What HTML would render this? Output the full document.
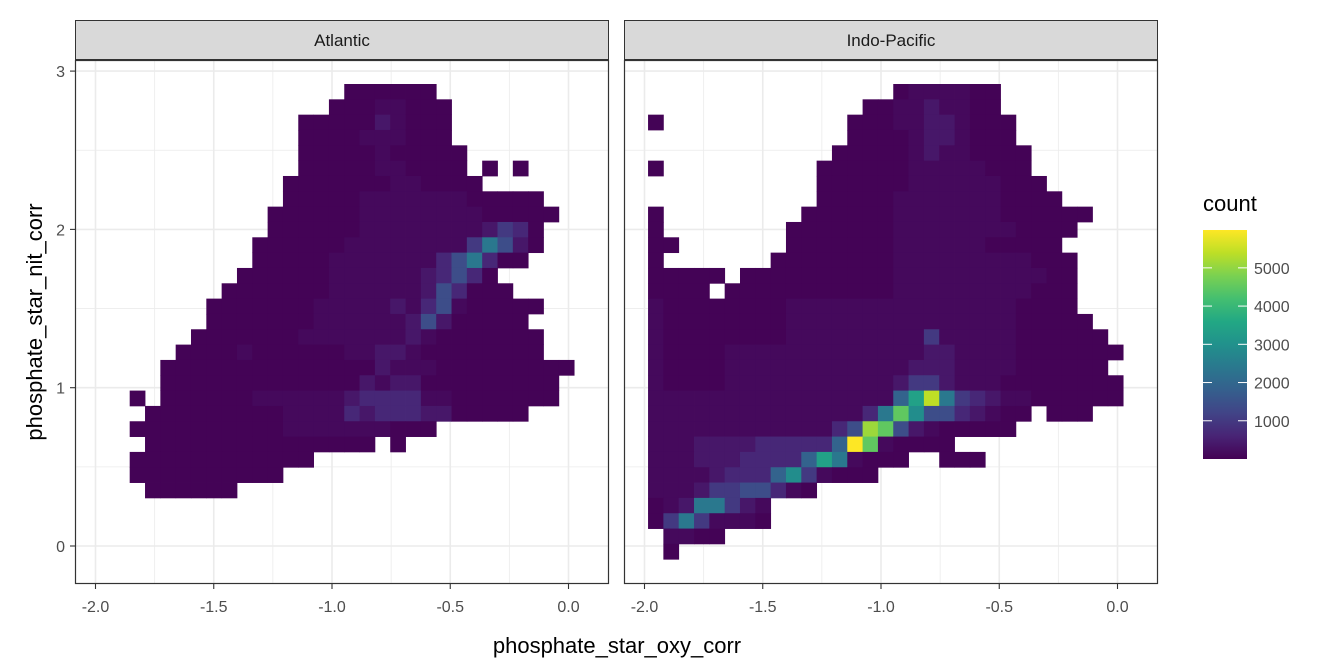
<!DOCTYPE html>
<html><head><meta charset="utf-8"><style>
body{margin:0;background:#fff;}
svg{display:block;font-family:"Liberation Sans",Arial,sans-serif;}
</style></head><body>
<svg id="chart" width="1344" height="672" viewBox="0 0 1344 672"></svg>
<script>
const panelNames = ["Atlantic","Indo-Pacific"];
const xTicks = [-2.0,-1.5,-1.0,-0.5,0.0];
const xTickLabels = ["-2.0","-1.5","-1.0","-0.5","0.0"];
const yTicks = [0,1,2,3];
const yTickLabels = ["0","1","2","3"];
const legendTicks = [1000,2000,3000,4000,5000];
const countMax = 5990;
const binX0 = -1.985, binW = 0.0648, binY0 = 2.9185, binH = 0.09684;
const levelCodes = "0123456789abcde";
const levelCounts = [30,140,380,650,1000,1400,1900,2400,2900,3400,3900,4500,5100,5400,5990];
// rows from top; each run = [startColumn, level codes]
const atlanticRows = [
[[16,"000000"]],
[[15,"00011000"]],
[[13,"0000021000"]],
[[13,"0000111000"]],
[[13,"00000100000"]],
[[13,"00000110000"],[25,"0"],[27,"0"]],
[[12,"0000000110000"]],
[[12,"00000111111100000"]],
[[11,"0000001111111100000"]],
[[11,"000000111111112430"]],
[[10,"0000001111111147520"]],
[[10,"000001111111357300"]],
[[9,"00000011111123530"]],
[[8,"0000000111111253000"]],
[[7,"0000000111112135100000"]],
[[7,"000000011111125200000"]],
[[6,"00000001111111210000000"]],
[[5,"000010000001122100000000"]],
[[4,"000000000000002111000000000"]],
[[4,"00000000000002122000000000"]],
[[2,"0"],[4,"00000011111123333110000000"]],
[[3,"0000000001111323332200000"]],
[[2,"00000000001111111000"]],
[[3,"000000000000000"],[19,"0"]],
[[2,"000000000000"]],
[[2,"0000000000"]],
[[3,"000000"]]
];
const indoPacificRows = [
[[16,"0111100"]],
[[14,"001121100"]],
[[0,"0"],[13,"00011221000"]],
[[13,"00001221000"]],
[[12,"0000012110000"]],
[[0,"0"],[11,"00000011111000"]],
[[11,"000000111111000"]],
[[11,"0000011111110000"]],
[[0,"0"],[10,"0000001111111000000"]],
[[0,"0"],[9,"0000000111111110000"]],
[[0,"00"],[9,"000000011111100000"]],
[[0,"0"],[8,"00000000111111111000"]],
[[0,"00000"],[6,"0000000000111111111100"]],
[[0,"0000"],[5,"00000000000111111111000"]],
[[0,"1000000001111111111111110000"]],
[[0,"10000000011111111111111100000"]],
[[0,"100000000111111111411111000000"]],
[[0,"1000011111111111112211110000000"]],
[[0,"100001111111111112221111000000"]],
[[0,"1000011111111111244211100000000"]],
[[0,"111111111111111169d743211000000"]],
[[0,"1111111111111137b85532100"],[26,"000"]],
[[0,"11111111111135cb52100000"]],
[[0,"1112222333336eb10000"]],
[[0,"11122233336971000"],[19,"000"]],
[[0,"111123336841000"]],
[[0,"11124455310"]],
[[0,"01277421"]],
[[0,"04741110"]],
[[1,"1100"]],
[[1,"0"]]
];
const panelRows = [atlanticRows, indoPacificRows];

const NS="http://www.w3.org/2000/svg";
const svg=document.getElementById('chart');
function mk(tag,attrs,parent){const e=document.createElementNS(NS,tag);for(const k in attrs)e.setAttribute(k,attrs[k]);(parent||svg).appendChild(e);return e;}
const panelX=[75,624], panelW=534, panelTop=60, panelBot=584;
function xs(p,v){return panelX[p]+20.5+(v+2)*236.5;}
function ys(v){return 546-v*158.3;}
const vir=["#440154","#482475","#414487","#355f8d","#2a788e","#21918c","#22a884","#44bf70","#7ad151","#bddf26","#fde725"];
function hx(h){return [1,3,5].map(i=>parseInt(h.substr(i,2),16));}
function color(v){let t=Math.max(0,Math.min(1,v/countMax))*10;let i=Math.min(9,Math.floor(t));let f=t-i;const a=hx(vir[i]),b=hx(vir[i+1]);return "rgb("+a.map((c,k)=>Math.round(c+(b[k]-c)*f)).join(",")+")";}

for(let p=0;p<2;p++){
  const g=mk('g',{});
  
  
  const s=mk('rect',{x:panelX[p]+0.5,y:20.5,width:panelW-1,height:39,fill:'#d9d9d9',stroke:'#333',"stroke-width":1},g);
  
  
  const st=mk('text',{x:panelX[p]+panelW/2,y:46,"text-anchor":"middle","font-size":"17","fill":"#1a1a1a"},g);
  st.textContent=panelNames[p];
  
  
  for(let i=0;i<xTicks.length-1;i++){const v=(xTicks[i]+xTicks[i+1])/2;mk('line',{x1:xs(p,v),x2:xs(p,v),y1:panelTop,y2:panelBot,stroke:'#ebebeb',"stroke-width":0.8},g);}
  for(let i=0;i<yTicks.length-1;i++){const v=(yTicks[i]+yTicks[i+1])/2;mk('line',{x1:panelX[p],x2:panelX[p]+panelW,y1:ys(v),y2:ys(v),stroke:'#ebebeb',"stroke-width":0.8},g);}
  xTicks.forEach(v=>mk('line',{x1:xs(p,v),x2:xs(p,v),y1:panelTop,y2:panelBot,stroke:'#ebebeb',"stroke-width":1.6},g));
  yTicks.forEach(v=>mk('line',{x1:panelX[p],x2:panelX[p]+panelW,y1:ys(v),y2:ys(v),stroke:'#ebebeb',"stroke-width":1.6},g));
  panelRows[p].forEach((row,r)=>{
    const yTop=binY0-r*binH;
    row.forEach(run=>{
      for(let k=0;k<run[1].length;k++){
        const c=run[0]+k;
        const cnt=levelCounts[levelCodes.indexOf(run[1][k])];
        const x0=xs(p,binX0+c*binW), x1=xs(p,binX0+(c+1)*binW);
        const cell=mk('rect',{x:x0,y:ys(yTop),width:x1-x0+0.4,height:ys(yTop-binH)-ys(yTop)+0.4,fill:color(cnt)},g);
        
        
      }
    });
  });
  const b=mk('rect',{x:panelX[p]+0.5,y:panelTop+0.5,width:panelW-1,height:panelBot-panelTop-1,fill:'none',stroke:'#333',"stroke-width":1.2},g);
  
  
  xTicks.forEach((v,i)=>{
    mk('line',{x1:xs(p,v),x2:xs(p,v),y1:panelBot,y2:panelBot+5,stroke:'#333',"stroke-width":1.1},g);
    const t=mk('text',{x:xs(p,v),y:612,"text-anchor":"middle","font-size":"16",fill:"#4d4d4d"},g);
    t.textContent=xTickLabels[i];
    
    
  });
}
yTicks.forEach((v,i)=>{
  mk('line',{x1:70,x2:75,y1:ys(v),y2:ys(v),stroke:'#333',"stroke-width":1.1});
  const t=mk('text',{x:65,y:ys(v)+6,"text-anchor":"end","font-size":"16",fill:"#4d4d4d"});
  t.textContent=yTickLabels[i];
  
  
});
const xt=mk('text',{x:617,y:653,"text-anchor":"middle","font-size":"22",fill:"#000"});
xt.textContent="phosphate_star_oxy_corr";


const yt=mk('text',{x:0,y:0,"text-anchor":"middle","font-size":"22",fill:"#000",transform:"translate(42,322) rotate(-90)"});
yt.textContent="phosphate_star_nit_corr";


const lg=mk('g',{});


const lt=mk('text',{x:1203,y:211,"font-size":"22",fill:"#000"},lg);
lt.textContent="count";


const defs=mk('defs',{},lg);
const grad=mk('linearGradient',{id:'vg',x1:0,y1:1,x2:0,y2:0},defs);
vir.forEach((c,i)=>mk('stop',{offset:(i*10)+'%','stop-color':c},grad));
const bar=mk('rect',{x:1203,y:230,width:44,height:229,fill:'url(#vg)'},lg);


function ly(v){return 459-v/countMax*229;}
legendTicks.forEach(v=>{
  mk('line',{x1:1203,x2:1212,y1:ly(v),y2:ly(v),stroke:'#fff',"stroke-width":1},lg);
  mk('line',{x1:1238,x2:1247,y1:ly(v),y2:ly(v),stroke:'#fff',"stroke-width":1},lg);
  const t=mk('text',{x:1254,y:ly(v)+6,"font-size":"16",fill:"#4d4d4d"},lg);
  t.textContent=String(v);
  
  
});
</script>
</body></html>
